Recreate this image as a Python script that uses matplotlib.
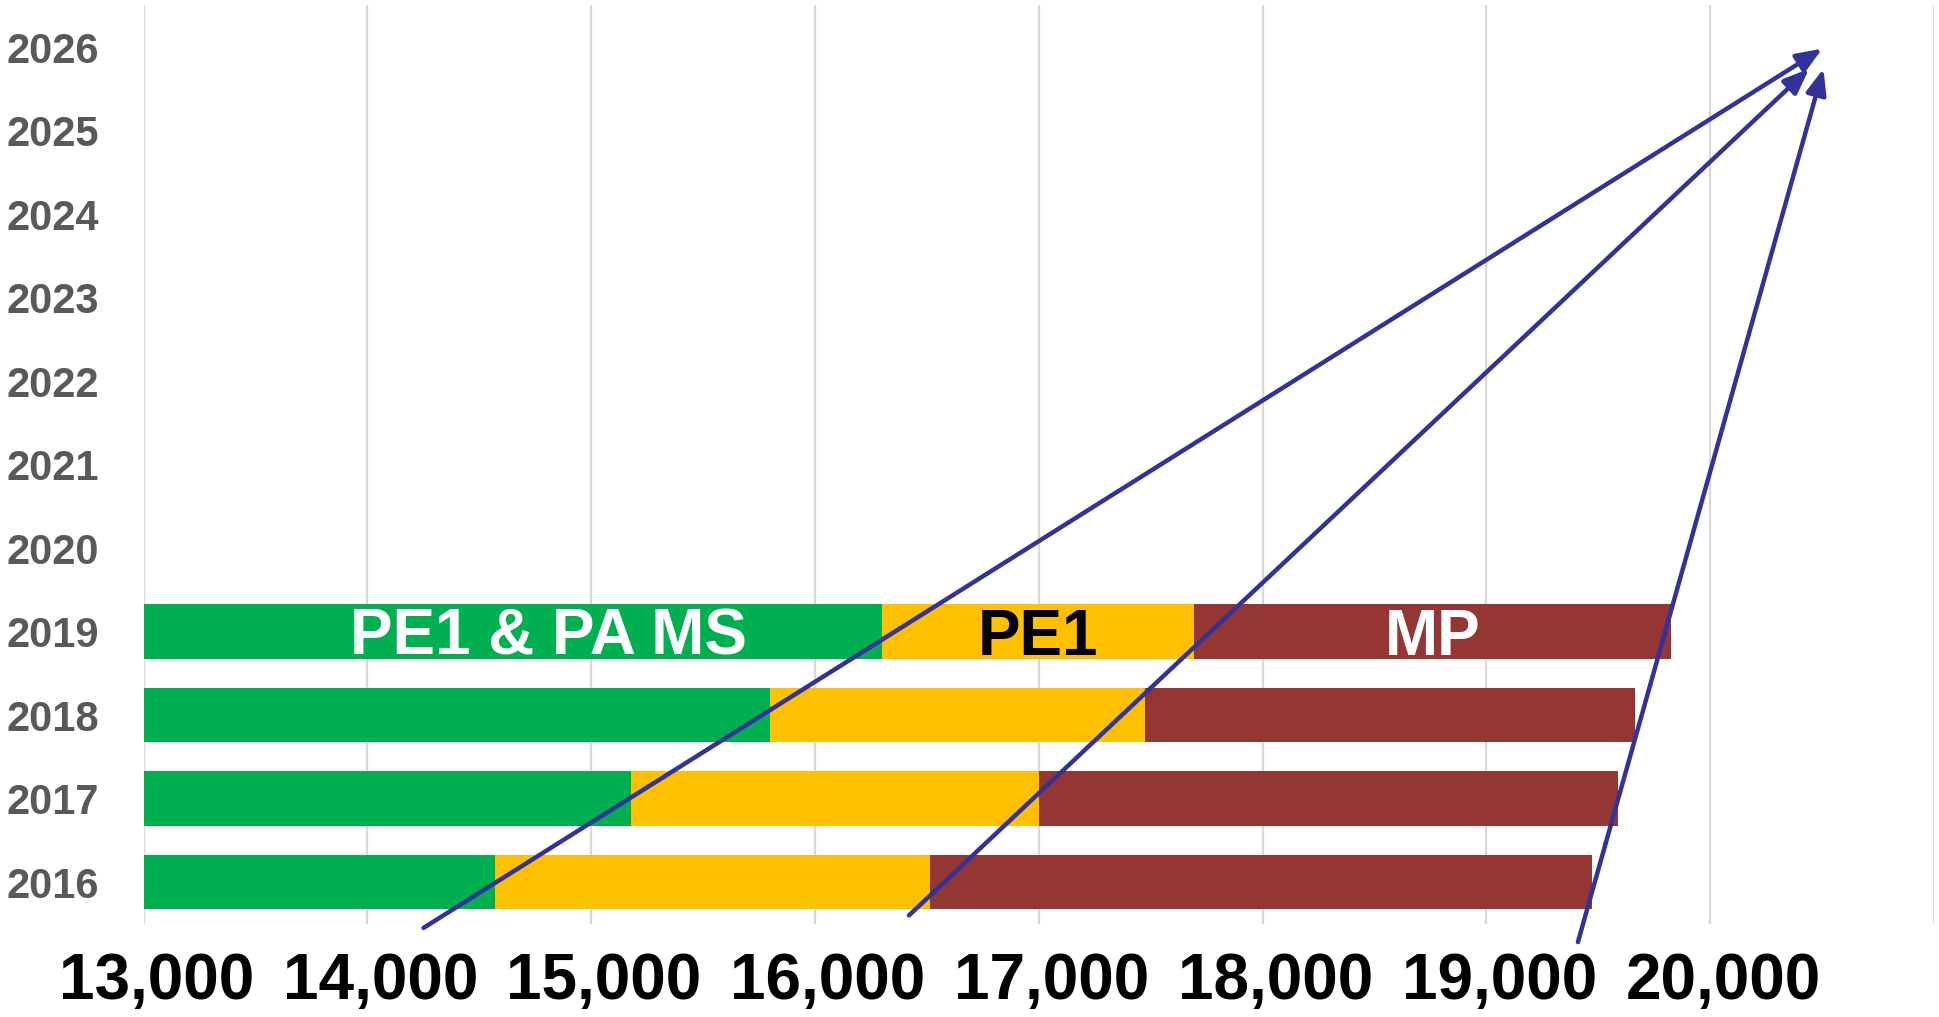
import matplotlib.pyplot as plt
import matplotlib.transforms as mtransforms
import numpy as np

plt.rcParams['font.family'] = ['Liberation Sans', 'DejaVu Sans']

years = ['2016', '2017', '2018', '2019', '2020', '2021', '2022', '2023', '2024', '2025', '2026']
# stacked segments for the years that have data (2016-2019)
pe1_pa_ms = [14570, 15180, 15800, 16300]
pe1 = [1945, 1820, 1675, 1395]
mp = [2955, 2590, 2190, 2130]

segment_labels = ['PE1 & PA MS', 'PE1', 'MP']
segment_colors = ['#00B050', '#FFC000', '#943634']
label_colors = ['white', 'black', 'white']

x_ticks = [13000, 14000, 15000, 16000, 17000, 18000, 19000, 20000, 21000]

# arrows: (start x, start y, end x, end y) in data units
arrows = [
    (14251, -0.55, 20501, 9.98),
    (16420, -0.40, 20442, 9.74),
    (19409, -0.72, 20506, 9.74),
]

W, H = 1939, 1017
fig = plt.figure(figsize=(W / 100, H / 100), dpi=100)
left, right, top, bottom = 143.5, 1934, 5.25, 923.75
ax = fig.add_axes([left / W, 1 - bottom / H, (right - left) / W, (bottom - top) / H])

ind = np.arange(len(pe1_pa_ms))
bar_h = 0.65
lefts = np.zeros(len(ind))
for vals, c in zip([pe1_pa_ms, pe1, mp], segment_colors):
    ax.barh(ind, vals, bar_h, left=lefts, color=c, zorder=2)
    lefts = lefts + np.array(vals)

# segment labels on the 2019 bar
top_i = len(ind) - 1
starts = [13000, pe1_pa_ms[top_i], pe1_pa_ms[top_i] + pe1[top_i]]
ends = [pe1_pa_ms[top_i], pe1_pa_ms[top_i] + pe1[top_i],
        pe1_pa_ms[top_i] + pe1[top_i] + mp[top_i]]
for i, (lab, col) in enumerate(zip(segment_labels, label_colors)):
    xc = (starts[i] + ends[i]) / 2
    if i == 0:
        xc += 160
    ax.text(xc, top_i - 0.28, lab, ha='center', va='baseline',
            fontsize=46, fontweight='bold', color=col, zorder=3)

ax.set_xlim(13000, 21000)
ax.set_ylim(-0.5, len(years) - 0.5)
ax.set_yticks(np.arange(len(years)))
ax.set_yticklabels(years, fontsize=30, fontweight='bold', color='#595959')
ax.set_xticks(x_ticks)
ax.set_xticklabels([f'{v:,}' for v in x_ticks[:-1]] + [''],
                   fontsize=46, fontweight='bold', color='black')
ax.tick_params(axis='y', length=0, pad=32)
ax.tick_params(axis='x', length=0, pad=20)
# x labels sit a little right of their gridlines in the original
shift = mtransforms.ScaledTranslation(0.13, 0, fig.dpi_scale_trans)
for lbl in ax.get_xticklabels():
    lbl.set_transform(lbl.get_transform() + shift)
ax.grid(axis='x', color='#D9D9D9', linewidth=1.6, zorder=0)
ax.set_axisbelow(True)
for s in ax.spines.values():
    s.set_visible(False)

for x0, y0, x1, y1 in arrows:
    ax.annotate('', xy=(x1, y1), xytext=(x0, y0), annotation_clip=False,
                arrowprops=dict(arrowstyle='-|>,head_length=0.7,head_width=0.28',
                                color='#31329A', lw=3.2, mutation_scale=22,
                                shrinkA=0, shrinkB=0), zorder=5)

fig.savefig('out.png', dpi=100)
